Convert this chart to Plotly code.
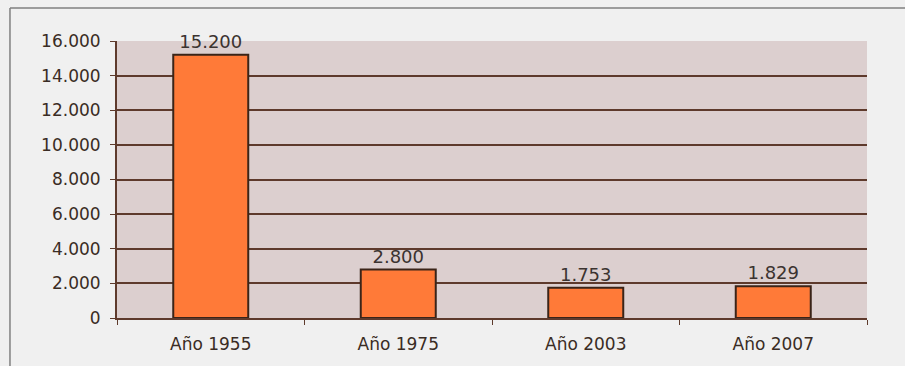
import plotly.graph_objects as go

# Population figures by year
categories = ["Año 1955", "Año 1975", "Año 2003", "Año 2007"]
values = [15200, 2800, 1753, 1829]
y_ticks = [0, 2000, 4000, 6000, 8000, 10000, 12000, 14000, 16000]

text_color = "#3a2c24"
grid_color = "#5e3a2c"

fig = go.Figure(
    go.Bar(
        x=categories,
        y=values,
        width=0.4,
        marker=dict(color="#ff7a38", line=dict(color="#3a2418", width=2)),
        texttemplate="%{y:,d}",
        textposition="outside",
        textfont=dict(family="DejaVu Sans", size=18, color="#3b3330"),
        cliponaxis=False,
    )
)

fig.update_layout(
    width=905,
    height=366,
    separators=",.",
    paper_bgcolor="#f0f0f0",
    plot_bgcolor="#dccfcf",
    margin=dict(l=117, r=38, t=41, b=48),
    showlegend=False,
    bargap=0.6,
    xaxis=dict(
        type="category",
        tickson="boundaries",
        ticks="outside",
        ticklen=5,
        tickcolor=grid_color,
        ticklabelstandoff=10,
        showgrid=False,
        showline=True,
        linecolor=grid_color,
        linewidth=2,
        tickfont=dict(family="DejaVu Sans", size=17, color=text_color, weight=500),
    ),
    yaxis=dict(
        range=[0, 16000],
        tickvals=y_ticks,
        tickformat=",d",
        ticks="outside",
        ticklen=5,
        tickcolor=grid_color,
        ticklabelstandoff=6,
        showline=True,
        linecolor=grid_color,
        linewidth=2,
        gridcolor=grid_color,
        gridwidth=2,
        zeroline=False,
        tickfont=dict(family="DejaVu Sans", size=17, color=text_color, weight=500),
    ),
    shapes=[
        # outer frame: top and left rules
        dict(type="line", xref="paper", yref="paper", x0=-0.1427, x1=1.06,
             y0=1.119, y1=1.119, line=dict(color="#808080", width=1.5)),
        dict(type="line", xref="paper", yref="paper", x0=-0.1427, x1=-0.1427,
             y0=1.119, y1=-0.2, line=dict(color="#808080", width=1.5)),
    ],
)

fig.write_html("out.html")
